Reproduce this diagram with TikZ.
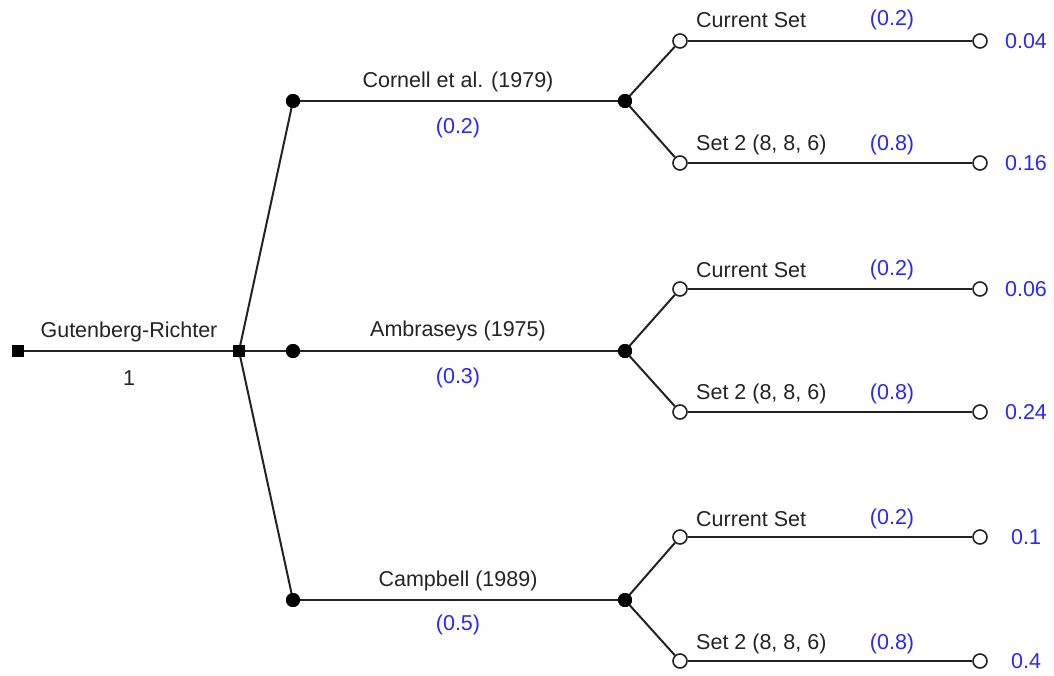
\documentclass[tikz,border=0pt]{standalone}
\usepackage{fontspec}
\setmainfont{Liberation Sans}
\definecolor{probblue}{RGB}{40,40,250}
\definecolor{inkgray}{RGB}{35,35,35}
\begin{document}
\begin{tikzpicture}[x=1pt,y=-1pt,
  every node/.style={font=\fontsize{21.5}{25}\selectfont, text=inkgray, inner sep=0pt},
  branch/.style={line width=2pt, draw=inkgray},
  sqnode/.style={rectangle, fill=black, minimum size=12pt, inner sep=0pt},
  chance/.style={circle, fill=black, minimum size=14pt, inner sep=0pt},
  leaf/.style={circle, draw=inkgray, fill=white, line width=1.6pt, minimum size=14pt, inner sep=0pt},
  prob/.style={text=probblue},
  result/.style={text=probblue, anchor=center}]
\useasboundingbox (0,0) rectangle (1054,675);

% decision squares
\node[sqnode] (root) at (18,351) {};
\node[sqnode] (gr) at (239,351) {};

% first-level chance nodes
\node[chance] (c1) at (293,101) {};
\node[chance] (c2) at (293,351) {};
\node[chance] (c3) at (293,600) {};
\node[chance] (m1) at (625,101) {};
\node[chance] (m2) at (625,351) {};
\node[chance] (m3) at (625,600) {};

% second-level branch ends
\node[leaf] (a1) at (680,41) {};
\node[leaf] (b1) at (680,163) {};
\node[leaf] (a2) at (680,289) {};
\node[leaf] (b2) at (680,412) {};
\node[leaf] (a3) at (680,537) {};
\node[leaf] (b3) at (680,661) {};
\node[leaf] (ea1) at (980,41) {};
\node[leaf] (eb1) at (980,163) {};
\node[leaf] (ea2) at (980,289) {};
\node[leaf] (eb2) at (980,412) {};
\node[leaf] (ea3) at (980,537) {};
\node[leaf] (eb3) at (980,661) {};

% connectors
\draw[branch] (root) -- (gr);
\draw[branch] (gr.center) -- (c1.center);
\draw[branch] (gr) -- (c2);
\draw[branch] (gr.center) -- (c3.center);
\foreach \i in {1,2,3}{
  \draw[branch] (c\i) -- (m\i);
  \draw[branch] (m\i.center) -- (a\i);
  \draw[branch] (m\i.center) -- (b\i);
  \draw[branch] (a\i) -- (ea\i);
  \draw[branch] (b\i) -- (eb\i);
}
% redraw filled markers over the line ends
\foreach \n in {root,gr}{\fill[black] (\n.north west) rectangle (\n.south east);}
\foreach \n in {c1,c2,c3,m1,m2,m3}{\fill[black] (\n.center) circle (7pt);}

% labels
\node (tgr) at (129,332) {Gutenberg-Richter};
\node (pgr) at (129,378) {1};

\node (t1) at (458,82) {Cornell et al. (1979)};
\node[prob] (p1) at (458,128) {(0.2)};
\node (t2) at (458,331) {Ambraseys (1975)};
\node[prob] (p2) at (458,378) {(0.3)};
\node (t3) at (458,581) {Campbell (1989)};
\node[prob] (p3) at (458,625) {(0.5)};

\foreach \i/\ya/\yb in {1/20/145, 2/270/394, 3/519/644}{
  \node[anchor=west] (sa\i) at (696,\ya) {Current Set};
  \node[prob] (qa\i) at (892,\ya) {(0.2)};
  \node[anchor=west] (sb\i) at (696,\yb) {Set 2 (8, 8, 6)};
  \node[prob] (qb\i) at (892,\yb) {(0.8)};
}

\node[result] (r1) at (1026,41) {0.04};
\node[result] (r2) at (1026,163) {0.16};
\node[result] (r3) at (1026,289) {0.06};
\node[result] (r4) at (1026,412) {0.24};
\node[result] (r5) at (1026,537) {0.1};
\node[result] (r6) at (1026,661) {0.4};
\end{tikzpicture}
\end{document}
